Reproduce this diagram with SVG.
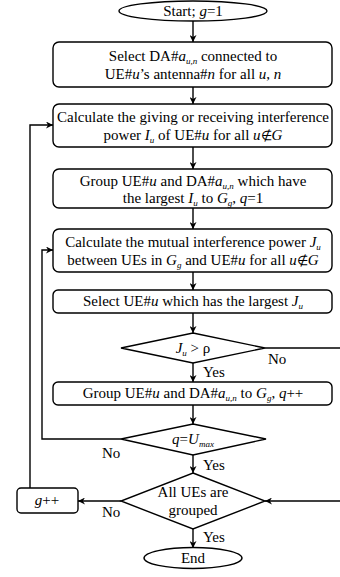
<svg xmlns="http://www.w3.org/2000/svg" width="340" height="577" viewBox="0 0 340 577">
<style>
.s{fill:none;stroke:#000;stroke-width:1.4}
.n{fill:#fff;stroke:#000;stroke-width:1.4}
text{font-family:'Liberation Serif','Times New Roman',serif;font-size:15px;fill:#000}
.c{text-anchor:middle}
.i{font-style:italic}
.b{font-size:9px;font-style:italic}
.m{font-size:13px}
</style>
<defs>
<marker id="a" viewBox="0 0 10 10" refX="10" refY="5" markerWidth="7" markerHeight="7" markerUnits="userSpaceOnUse" orient="auto">
<path d="M0,0 L10,5 L0,10 L3,5 z" fill="#000"/>
</marker>
</defs>
<g id="connectors">
<line class="s" x1="193" y1="21" x2="193" y2="42" marker-end="url(#a)"/>
<line class="s" x1="193" y1="87" x2="193" y2="104" marker-end="url(#a)"/>
<line class="s" x1="193" y1="147" x2="193" y2="169" marker-end="url(#a)"/>
<line class="s" x1="193" y1="208" x2="193" y2="229" marker-end="url(#a)"/>
<line class="s" x1="193" y1="272" x2="193" y2="290" marker-end="url(#a)"/>
<line class="s" x1="193" y1="313" x2="193" y2="333" marker-end="url(#a)"/>
<line class="s" x1="193" y1="363" x2="193" y2="382" marker-end="url(#a)"/>
<line class="s" x1="193" y1="405" x2="193" y2="424" marker-end="url(#a)"/>
<line class="s" x1="193" y1="455" x2="193" y2="473" marker-end="url(#a)"/>
<line class="s" x1="193" y1="529" x2="193" y2="548" marker-end="url(#a)"/>
<line class="s" x1="121" y1="501" x2="78" y2="501" marker-end="url(#a)"/>
<polyline class="s" points="30,488 30,125 53,125" marker-end="url(#a)"/>
<polyline class="s" points="121,439 42,439 42,250 53,250" marker-end="url(#a)"/>
<line class="s" x1="265" y1="348" x2="340" y2="348"/>
<line class="s" x1="340" y1="501" x2="265" y2="501" marker-end="url(#a)"/>
<text x="268" y="364">No</text>
<text x="203" y="377">Yes</text>
<text x="102" y="458">No</text>
<text x="203" y="470">Yes</text>
<text x="102" y="517">No</text>
<text x="203" y="542">Yes</text>
</g>
<g id="start">
<ellipse class="n" cx="193" cy="11" rx="74" ry="10"/>
<text class="c" x="193" y="16">Start; <tspan class="i">g</tspan>=1</text>
</g>
<g id="box1">
<rect class="n" x="53" y="42" width="279" height="45" rx="6"/>
<text class="c" x="193" y="61">Select DA#<tspan class="i">a</tspan><tspan class="b" dy="3">u,n</tspan><tspan dy="-3">  connected to</tspan></text>
<text class="c" x="193" y="79">UE#<tspan class="i">u</tspan>’s antenna#<tspan class="i">n</tspan> for all <tspan class="i">u</tspan>, <tspan class="i">n</tspan></text>
</g>
<g id="box2">
<rect class="n" x="53" y="104" width="279" height="43" rx="6"/>
<text class="c" x="193" y="122">Calculate the giving or receiving interference</text>
<text class="c" x="193" y="140">power <tspan class="i">I</tspan><tspan class="b" dy="3">u</tspan><tspan dy="-3"> of UE#</tspan><tspan class="i">u</tspan> for all <tspan class="i">u</tspan><tspan class="m">∉</tspan><tspan class="i">G</tspan></text>
</g>
<g id="box3">
<rect class="n" x="53" y="169" width="279" height="39" rx="6"/>
<text class="c" x="193" y="186">Group UE#<tspan class="i">u</tspan> and DA#<tspan class="i">a</tspan><tspan class="b" dy="3">u,n</tspan><tspan dy="-3"> which have</tspan></text>
<text class="c" x="193" y="203">the largest <tspan class="i">I</tspan><tspan class="b" dy="3">u</tspan><tspan dy="-3"> to </tspan><tspan class="i">G</tspan><tspan class="b" dy="3">g</tspan><tspan dy="-3">, </tspan><tspan class="i">q</tspan>=1</text>
</g>
<g id="box4">
<rect class="n" x="53" y="229" width="279" height="43" rx="6"/>
<text class="c" x="193" y="247">Calculate the mutual interference power <tspan class="i">J</tspan><tspan class="b" dy="3">u</tspan></text>
<text class="c" x="193" y="265">between UEs in <tspan class="i">G</tspan><tspan class="b" dy="3">g</tspan><tspan dy="-3"> and UE#</tspan><tspan class="i">u</tspan> for all <tspan class="i">u</tspan><tspan class="m">∉</tspan><tspan class="i">G</tspan></text>
</g>
<g id="box5">
<rect class="n" x="53" y="290" width="279" height="23" rx="5"/>
<text class="c" x="193" y="306">Select UE#<tspan class="i">u</tspan> which has the largest <tspan class="i">J</tspan><tspan class="b" dy="3">u</tspan></text>
</g>
<g id="dec1">
<polygon class="n" points="193,333 265,348 193,363 121,348"/>
<text class="c" x="193" y="353"><tspan class="i">J</tspan><tspan class="b" dy="3">u</tspan><tspan dy="-3"> &gt; ρ</tspan></text>
</g>
<g id="box6">
<rect class="n" x="53" y="382" width="279" height="23" rx="5"/>
<text class="c" x="193" y="398">Group UE#<tspan class="i">u</tspan> and DA#<tspan class="i">a</tspan><tspan class="b" dy="3">u,n</tspan><tspan dy="-3"> to </tspan><tspan class="i">G</tspan><tspan class="b" dy="3">g</tspan><tspan dy="-3">, </tspan><tspan class="i">q</tspan>++</text>
</g>
<g id="dec2">
<polygon class="n" points="193,424 266,439 193,455 121,439"/>
<text class="c" x="193" y="444"><tspan class="i">q</tspan>=<tspan class="i">U</tspan><tspan class="b" dy="3">max</tspan></text>
</g>
<g id="dec3">
<polygon class="n" points="193,473 265,501 193,529 121,501"/>
<text class="c" x="193" y="497">All UEs are</text>
<text class="c" x="193" y="515">grouped</text>
</g>
<g id="gpp">
<rect class="n" x="17" y="488" width="61" height="25" rx="4"/>
<text class="c" x="47" y="505"><tspan class="i">g</tspan>++</text>
</g>
<g id="end">
<ellipse class="n" cx="193" cy="558" rx="49" ry="10.5"/>
<text class="c" x="193" y="563">End</text>
</g>
</svg>
